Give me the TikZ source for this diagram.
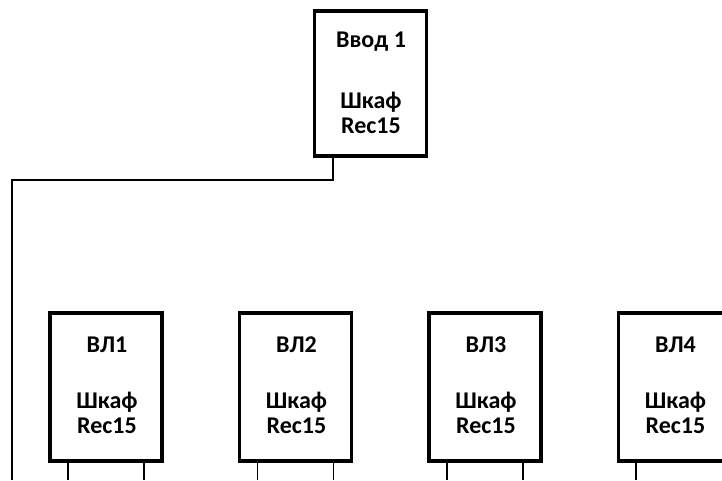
\documentclass[tikz,border=0pt]{standalone}
\usepackage{fontspec}
\setmainfont{Carlito}
\begin{document}
\begin{tikzpicture}[x=1pt,y=-1pt,
  box/.style={draw, line width=3.5pt, minimum width=112pt, inner sep=0pt},
  lbl/.style={anchor=base, font=\fontsize{24}{28}\selectfont\bfseries, inner sep=0pt},
  wire/.style={line width=1.3pt}]
\useasboundingbox (0,0) rectangle (722,480);
% top cabinet
\node[box, minimum height=145pt] (top) at (370.5,83.5) {};
\node[lbl] (topa) at (371,47) {Ввод 1};
\node[lbl] (topb) at (371,108) {Шкаф};
\node[lbl] (topc) at (371,133) {Rec15};
\coordinate (ts) at (333,157);
\coordinate (tc) at (333,180);
\coordinate (lc) at (12,180);
\coordinate (le) at (12,480);
\draw[wire] (ts) -- (tc) -- (lc) -- (le);
% lower cabinets
\foreach \i/\cx in {1/106,2/295.5,3/485,4/674.5}{
  \node[box, minimum height=148pt] (b\i) at (\cx,387) {};
  \node[lbl] (b\i a) at (\cx+1,352) {ВЛ\i};
  \node[lbl] (b\i b) at (\cx+1,408) {Шкаф};
  \node[lbl] (b\i c) at (\cx+1,433) {Rec15};
}
\foreach \i/\xa in {1/68,2/257.5,3/447}{
  \coordinate (p\i) at (\xa,463);
  \coordinate (q\i) at (\xa,480);
  \draw[wire] (p\i) -- (q\i);
  \coordinate (r\i) at (\xa+76,463);
  \coordinate (s\i) at (\xa+76,480);
  \draw[wire] (r\i) -- (s\i);
}
\coordinate (p4) at (636,463);
\coordinate (q4) at (636,480);
\draw[wire] (p4) -- (q4);
\end{tikzpicture}
\end{document}
